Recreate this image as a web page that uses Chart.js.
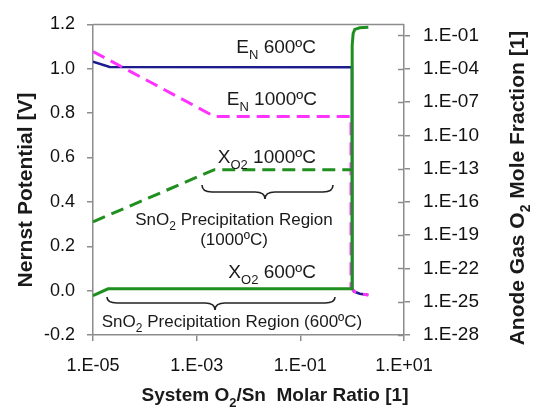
<!DOCTYPE html>
<html>
<head>
<meta charset="utf-8">
<script src="https://cdn.jsdelivr.net/npm/chart.js@4.4.1/dist/chart.umd.min.js"></script>
<style>
  html,body{margin:0;padding:0;background:#fff;}
  #wrap{width:533px;height:408px;position:relative;}
</style>
</head>
<body>
<div id="wrap"><canvas id="chart"></canvas></div>
<script>
// tick positions
const xTicks=[1e-5,1e-3,1e-1,1e1];
const leftTicks=[-0.2,0,0.2,0.4,0.6,0.8,1.0,1.2];
const rightTicks=[1e-28,1e-25,1e-22,1e-19,1e-16,1e-13,1e-10,1e-7,1e-4,1e-1];

// E_N 600C  (left axis, V)
const en600X=[1e-5,2.1e-5,0.99,1.0,1.08,1.4,2.05];
const en600Y=[1.032,1.008,1.007,0.01,-0.004,-0.014,-0.02];
// E_N 1000C (left axis, V)
const en1000X=[1e-5,2.2e-3,0.95,0.95,1.0,1.1,1.4,2.05];
const en1000Y=[1.078,0.785,0.785,0.01,0.008,-0.004,-0.014,-0.02];
// X_O2 1000C (right axis, mole fraction)
const xo1000X=[1e-5,2.2e-3,0.96];
const xo1000Y=[1.6e-18,8e-14,8e-14];
// X_O2 600C (right axis, mole fraction)
const xo600X=[1e-5,1.95e-5,0.995,1.0,1.045,1.125,1.4,2.05];
const xo600Y=[3.5e-25,1.45e-24,1.45e-24,1.26e-2,0.158,0.355,0.5,0.56];

function pts(xs,ys){return xs.map((x,i)=>({x:x,y:ys[i]}));}
function sciLabel(v){
    const e=Math.round(Math.log10(v));
    return '1.E'+(e<0?'-':'+')+String(Math.abs(e)).padStart(2,'0');
}

const FONT='"Liberation Sans", Arial, sans-serif';
const axisGray='#8c8c8c';

function drawRich(ctx,parts,x,y,align,size,bold){
    const main=(bold?'bold ':'')+size+'px '+FONT;
    const sub=(bold?'bold ':'')+Math.round(size*0.68)+'px '+FONT;
    let w=0;
    parts.forEach(p=>{ctx.font=p[1]?sub:main;w+=ctx.measureText(p[0]).width;});
    let cx=align==='center'?x-w/2:(align==='right'?x-w:x);
    ctx.textAlign='left';
    ctx.textBaseline='alphabetic';
    parts.forEach(p=>{
        ctx.font=p[1]?sub:main;
        ctx.fillText(p[0],cx,y+(p[1]?size*0.3:0));
        cx+=ctx.measureText(p[0]).width;
    });
}

function brace(ctx,x1,x2,tip,y,mid,bot){
    const q=10;
    ctx.beginPath();
    ctx.moveTo(x1,y);
    ctx.quadraticCurveTo(x1,mid,x1+q,mid);
    ctx.lineTo(tip-q,mid);
    ctx.quadraticCurveTo(tip,mid,tip,bot);
    ctx.quadraticCurveTo(tip,mid,tip+q,mid);
    ctx.lineTo(x2-q,mid);
    ctx.quadraticCurveTo(x2,mid,x2,y);
    ctx.stroke();
}

const notes={
    id:'notes',
    afterDraw(chart){
        const ctx=chart.ctx;
        const ca=chart.chartArea;
        ctx.save();
        // frame top
        ctx.strokeStyle=axisGray;
        ctx.lineWidth=1.5;
        ctx.beginPath();
        ctx.moveTo(ca.left,ca.top);ctx.lineTo(ca.right,ca.top);
        ctx.stroke();
        // inner half of right ticks
        const y2=chart.scales.y2;
        rightTicks.forEach(v=>{
            const py=Math.round(y2.getPixelForValue(v))+0.5;
            ctx.beginPath();ctx.moveTo(ca.right-6,py);ctx.lineTo(ca.right,py);ctx.stroke();
        });

        ctx.fillStyle='#1a1a1a';
        drawRich(ctx,[['E',0],['N',1],[' 600ºC',0]],316,53,'right',19,false);
        drawRich(ctx,[['E',0],['N',1],[' 1000ºC',0]],317,105,'right',19,false);
        drawRich(ctx,[['X',0],['O2',1],[' 1000ºC',0]],316,163,'right',19,false);
        drawRich(ctx,[['X',0],['O2',1],[' 600ºC',0]],316,278,'right',19,false);

        drawRich(ctx,[['SnO',0],['2',1],[' Precipitation Region',0]],234,225,'center',17,false);
        drawRich(ctx,[['(1000ºC)',0]],234,245,'center',17,false);
        drawRich(ctx,[['SnO',0],['2',1],[' Precipitation Region (600ºC)',0]],232,327,'center',17,false);

        ctx.strokeStyle='#222';
        ctx.lineWidth=1.6;
        brace(ctx,202,333,265,185,192,199);
        brace(ctx,107,335,215,297,303,310);

        // axis titles
        drawRich(ctx,[['System O',0],['2',1],['/Sn  Molar Ratio [1]',0]],275,401,'center',19,true);
        ctx.save();
        ctx.translate(32,190);ctx.rotate(-Math.PI/2);
        drawRich(ctx,[['Nernst Potential [V]',0]],0,0,'center',21,true);
        ctx.restore();
        ctx.save();
        ctx.translate(524,188);ctx.rotate(-Math.PI/2);
        drawRich(ctx,[['Anode Gas O',0],['2',1],[' Mole Fraction [1]',0]],0,0,'center',21,true);
        ctx.restore();
        ctx.restore();
    }
};

new Chart(document.getElementById('chart'),{
    type:'line',
    data:{
        datasets:[
            {data:pts(xo600X,xo600Y),yAxisID:'y2',borderColor:'#1f8f1f',borderWidth:3},
            {data:pts(xo1000X,xo1000Y),yAxisID:'y2',borderColor:'#1f8f1f',borderWidth:3,borderDash:[13,7]},
            {data:pts(en1000X,en1000Y),yAxisID:'y',borderColor:'#ff33ff',borderWidth:3,borderDash:[13,7]},
            {data:pts(en600X,en600Y),yAxisID:'y',borderColor:'#1c1c8c',borderWidth:2.5}
        ]
    },
    options:{
        responsive:true,
        maintainAspectRatio:false,
        animation:false,
        layout:{padding:{top:19,left:0,right:0,bottom:0}},
        elements:{point:{radius:0,hoverRadius:0},line:{tension:0}},
        plugins:{legend:{display:false},tooltip:{enabled:false}},
        scales:{
            x:{
                type:'logarithmic',min:1e-5,max:10,
                afterBuildTicks(s){s.ticks=xTicks.map(v=>({value:v}));},
                afterFit(s){s.height=73;},
                ticks:{callback:v=>sciLabel(v),font:{family:FONT,size:18},color:'#111',padding:14,maxRotation:0,autoSkip:false},
                grid:{drawOnChartArea:false,color:axisGray,tickLength:6,lineWidth:1.5},
                border:{color:axisGray,width:1.5}
            },
            y:{
                type:'linear',position:'left',min:-0.2,max:1.2,
                afterBuildTicks(s){s.ticks=leftTicks.map(v=>({value:v}));},
                afterFit(s){s.width=93;},
                ticks:{callback:v=>Math.abs(v)<1e-9?'0.0':v.toFixed(1),font:{family:FONT,size:18},color:'#111',padding:12},
                grid:{drawOnChartArea:false,color:axisGray,tickLength:6,lineWidth:1.5},
                border:{color:axisGray,width:1.5}
            },
            y2:{
                type:'logarithmic',position:'right',min:1e-28,max:1,
                afterBuildTicks(s){s.ticks=rightTicks.map(v=>({value:v}));},
                afterFit(s){s.width=129;},
                ticks:{callback:v=>sciLabel(v),font:{family:FONT,size:19},color:'#111',padding:13,autoSkip:false},
                grid:{drawOnChartArea:false,color:axisGray,tickLength:6,lineWidth:1.5},
                border:{color:axisGray,width:1.5}
            }
        }
    },
    plugins:[notes]
});
</script>
</body>
</html>
